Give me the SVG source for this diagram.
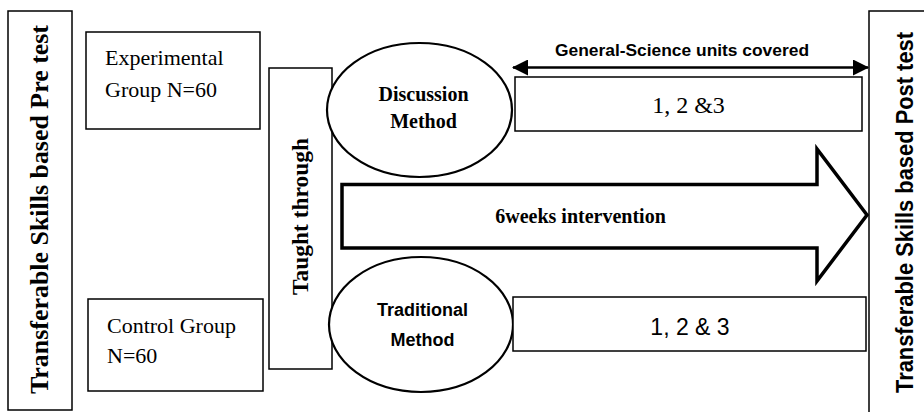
<svg xmlns="http://www.w3.org/2000/svg" width="924" height="412" viewBox="0 0 924 412">
<defs>
<style>
.box{fill:#fff;stroke:#000;stroke-width:1.5}
.ell{fill:#fff;stroke:#000;stroke-width:2.2}
.serif{font-family:"Liberation Serif","Times New Roman",serif;fill:#000}
.sans{font-family:"Liberation Sans",Arial,sans-serif;fill:#000}
.b{font-weight:bold}
</style>
<marker id="ah" viewBox="0 0 16 16" refX="15" refY="8" markerWidth="16" markerHeight="16" markerUnits="userSpaceOnUse" orient="auto-start-reverse">
<path d="M0,0 L16,8 L0,16 Z" fill="#000"/>
</marker>
</defs>
<rect width="924" height="412" fill="#fff"/>

<g id="pretest">
<rect class="box" x="8" y="11" width="64" height="399"/>
<text class="serif b" font-size="25.5" text-anchor="middle" transform="translate(48,209.5) rotate(-90)" textLength="369" lengthAdjust="spacingAndGlyphs">Transferable Skills based Pre test</text>
</g>

<g id="posttest">
<rect class="box" x="869" y="11" width="70" height="410"/>
<text class="sans b" font-size="23" text-anchor="middle" transform="translate(913,212.5) rotate(-90)" textLength="361" lengthAdjust="spacingAndGlyphs">Transferable Skills based Post test</text>
</g>

<g id="experimental">
<rect class="box" x="86" y="32" width="174" height="97"/>
<text class="serif" font-size="22" x="105" y="65">Experimental</text>
<text class="serif" font-size="22" x="105" y="97">Group N=60</text>
</g>

<g id="control">
<rect class="box" x="88" y="299" width="175" height="92"/>
<text class="serif" font-size="22" x="107" y="333">Control Group</text>
<text class="serif" font-size="22" x="107" y="363">N=60</text>
</g>

<g id="taught">
<rect class="box" x="269" y="68" width="63" height="301"/>
<text class="serif b" font-size="22.5" text-anchor="middle" transform="translate(308,216.5) rotate(-90)" textLength="157" lengthAdjust="spacingAndGlyphs">Taught through</text>
</g>

<g id="intervention">
<polygon points="342,184.5 817,184.5 817,149 867,215 817,281 817,248 342,248" fill="#fff" stroke="#000" stroke-width="3.5" stroke-linejoin="miter"/>
<text class="serif b" font-size="20" x="580.5" y="223" text-anchor="middle">6weeks intervention</text>
</g>

<g id="discussion">
<ellipse class="ell" cx="419.5" cy="110" rx="92.5" ry="67"/>
<text class="serif b" font-size="20" x="423.5" y="101" text-anchor="middle">Discussion</text>
<text class="serif b" font-size="20" x="423.5" y="128" text-anchor="middle">Method</text>
</g>

<g id="traditional">
<ellipse class="ell" cx="421" cy="324.5" rx="92" ry="67.5"/>
<text class="sans b" font-size="18" x="422.5" y="316" text-anchor="middle">Traditional</text>
<text class="sans b" font-size="18" x="422.5" y="346" text-anchor="middle">Method</text>
</g>

<g id="units1">
<rect class="box" x="515" y="77" width="347" height="54"/>
<text class="serif" font-size="24" x="688.5" y="113" text-anchor="middle">1, 2 &amp;3</text>
</g>

<g id="units2">
<rect class="box" x="513" y="297" width="353" height="54"/>
<text class="sans" font-size="23" x="690" y="335" text-anchor="middle">1, 2 &amp; 3</text>
</g>

<g id="units-label">
<text class="sans b" font-size="17" x="682" y="56" text-anchor="middle" textLength="254" lengthAdjust="spacingAndGlyphs">General-Science units covered</text>
</g>

<g id="connectors">
<line x1="513" y1="67.5" x2="868" y2="67.5" stroke="#000" stroke-width="2.5" marker-start="url(#ah)" marker-end="url(#ah)"/>
</g>
</svg>
